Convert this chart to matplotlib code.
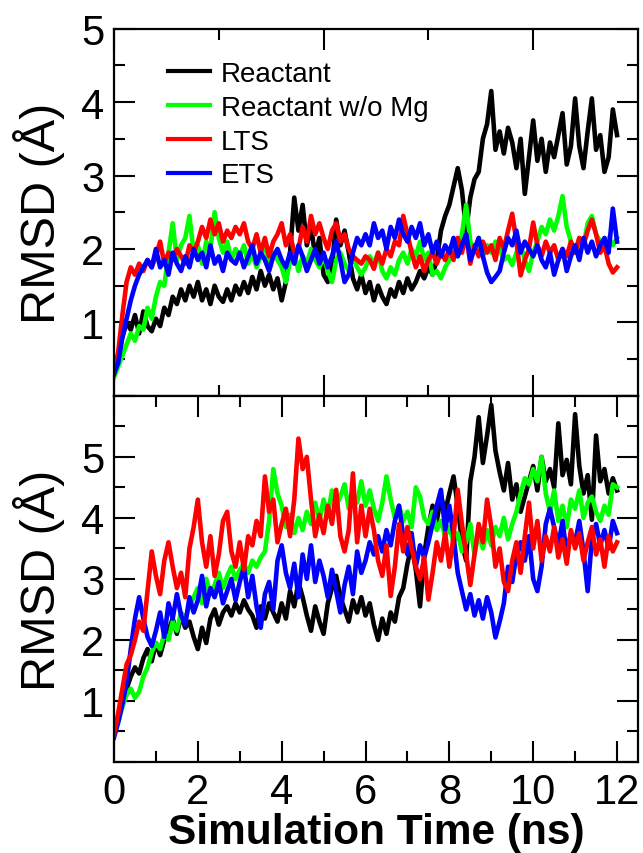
# RMSD vs simulation time, two stacked panels
import matplotlib
matplotlib.use("Agg")
import matplotlib.pyplot as plt
import numpy as np

plt.rcParams['font.family'] = ['Liberation Sans', 'DejaVu Sans']

# time grid (ns), values read every 0.1 ns
time_ns = [i / 10 for i in range(121)]

labels = ["Reactant", "Reactant w/o Mg", "LTS", "ETS"]
colors = ["#000000", "#00ff00", "#ff0000", "#0000ff"]

# ---- top panel ----
top_black = [
    0.30, 0.55, 0.80, 1.00, 0.90, 1.10, 0.85, 1.15, 0.95, 0.88,
    1.05, 0.95, 1.20, 1.10, 1.35, 1.25, 1.45, 1.30, 1.50, 1.35,
    1.55, 1.30, 1.45, 1.25, 1.50, 1.35, 1.28, 1.45, 1.30, 1.50,
    1.38, 1.55, 1.40, 1.62, 1.45, 1.70, 1.50, 1.65, 1.45, 1.60,
    1.30, 1.55, 1.95, 2.70, 2.25, 2.60, 2.05, 2.30, 1.90, 2.15,
    1.65, 1.55, 1.75, 2.40, 2.05, 2.25, 1.95, 1.60, 1.45, 1.65,
    1.40, 1.55, 1.30, 1.50, 1.35, 1.25, 1.45, 1.35, 1.55, 1.40,
    1.60, 1.45, 1.55, 1.70, 1.60, 1.75, 1.65, 1.85, 2.25, 2.45,
    2.60, 2.85, 3.10, 2.80, 2.25, 2.70, 2.95, 3.05, 3.50, 3.70,
    4.15, 3.35, 3.60, 3.30, 3.65, 3.45, 3.10, 3.50, 2.75, 3.25,
    3.75, 3.20, 3.50, 3.05, 3.45, 3.25, 3.55, 3.85, 3.15, 3.40,
    4.05, 3.40, 3.10, 3.60, 4.05, 3.35, 3.55, 3.05, 3.25, 3.90,
    3.55]
top_green = [
    0.25, 0.40, 0.55, 0.70, 0.85, 0.75, 0.95, 0.90, 1.20, 1.05,
    1.35, 1.55, 1.50, 1.95, 2.35, 1.85, 2.05, 2.15, 2.45, 1.95,
    2.05, 1.80, 2.10, 2.00, 2.50, 2.15, 1.95, 2.10, 1.85, 2.00,
    1.90, 2.05, 1.80, 1.95, 1.75, 1.90, 2.05, 1.80, 1.95, 1.85,
    1.75, 1.55, 1.85, 1.95, 1.70, 1.90, 1.80, 2.00, 1.85, 1.75,
    1.90, 1.70, 1.55, 1.85, 1.95, 1.80, 1.70, 1.90, 1.75, 1.65,
    1.75, 1.90, 1.80, 1.95, 1.70, 1.60, 1.75, 1.65, 1.85, 1.95,
    1.80, 2.00, 1.90, 2.10, 1.85, 1.95, 1.65, 1.70, 1.60, 1.75,
    1.85, 2.05, 1.90, 2.20, 2.60, 2.10, 1.95, 2.15, 1.90, 2.05,
    1.95, 2.10, 2.00, 1.85, 1.90, 1.78, 1.95, 2.05, 1.85, 1.70,
    1.95, 2.10, 2.30, 2.20, 2.40, 2.25, 2.45, 2.72, 2.30, 2.10,
    1.95, 2.15, 2.05, 2.35, 2.45, 2.20, 2.10, 2.00, 2.15, 2.05,
    2.15]
top_red = [
    0.30, 0.60, 1.10, 1.55, 1.75, 1.65, 1.80, 1.70, 1.85, 1.75,
    1.90, 2.10, 1.80, 1.95, 1.85, 2.00, 1.90, 1.80, 2.05, 1.95,
    2.10, 2.30, 2.15, 2.40, 2.20, 2.35, 2.10, 2.25, 2.15, 2.30,
    2.20, 2.35, 2.10, 2.00, 2.20, 1.95, 2.15, 1.90, 2.10, 2.20,
    2.35, 2.05, 2.20, 1.95, 2.00, 2.30, 2.10, 2.45, 2.20, 2.35,
    2.15, 2.00, 2.25, 2.35, 2.10, 2.20, 2.00, 1.90, 1.85, 1.80,
    1.90, 1.85, 1.73, 1.95, 1.80, 2.00, 1.90, 2.10, 2.05, 2.45,
    2.20, 1.95, 1.75, 1.90, 1.70, 1.85, 1.95, 1.80, 1.95, 1.85,
    2.00, 1.85, 2.15, 1.95, 2.20, 1.80, 2.05, 1.90, 2.10, 1.95,
    2.05, 1.85, 2.15, 2.00, 2.25, 2.48, 2.10, 1.64, 1.85, 2.00,
    2.36, 2.05, 1.90, 2.10, 1.95, 2.05, 1.85, 2.00, 1.90, 2.10,
    1.95, 2.15, 2.05, 2.25, 2.40, 2.20, 1.95, 2.05, 1.80, 1.68,
    1.75]
top_blue = [
    0.30, 0.45, 0.80, 1.05, 1.30, 1.50, 1.65, 1.75, 1.85, 1.75,
    2.00, 1.75, 1.85, 1.65, 1.95, 1.80, 1.70, 1.90, 1.75, 2.00,
    1.85, 1.95, 1.75, 2.05, 1.80, 1.90, 1.70, 1.95, 1.85, 1.80,
    1.95, 1.75, 1.90, 2.05, 1.80, 1.95, 1.85, 1.70, 1.90, 2.00,
    1.85, 1.75, 1.95, 1.80, 2.05, 1.90, 1.70, 1.85, 2.00, 1.80,
    1.95, 1.75, 1.90, 2.10, 1.85, 1.55, 1.65, 1.95, 2.15, 2.05,
    2.20, 2.05, 2.35, 2.15, 2.25, 2.00, 2.30, 2.15, 2.40, 2.20,
    2.10, 2.30, 2.15, 2.35, 2.05, 2.20, 1.95, 2.10, 1.90, 2.05,
    1.95, 2.15, 1.90, 2.05, 2.20, 1.85, 2.00, 2.15, 1.90, 1.68,
    1.55, 1.62, 1.70, 1.95, 2.15, 2.05, 2.25, 1.95, 2.10, 2.00,
    1.90, 2.05, 1.85, 1.75, 1.95, 1.65, 1.85, 2.00, 1.70, 1.90,
    2.05, 1.85, 2.15, 1.95, 2.10, 1.90, 2.05, 2.15, 1.95, 2.55,
    2.10]

# ---- bottom panel ----
bot_black = [
    0.45, 0.70, 0.95, 1.20, 1.40, 1.55, 1.45, 1.70, 1.85, 1.65,
    1.95, 1.75, 2.00, 2.15, 2.35, 2.10, 2.40, 2.20, 2.30, 2.05,
    1.85, 2.20, 1.95, 2.35, 2.50, 2.25, 2.45, 2.55, 2.40, 2.60,
    2.45, 2.65, 2.50, 2.40, 2.20, 2.55, 2.35, 2.60, 2.45, 2.30,
    2.60, 2.35, 2.80, 2.55, 2.95, 2.70, 2.40, 2.15, 2.55, 2.30,
    2.10, 2.60, 2.85, 3.05, 2.70, 2.50, 2.30, 2.65, 2.45, 2.70,
    2.40, 2.60, 2.25, 2.00, 2.35, 2.10, 2.45, 2.30, 2.70, 2.85,
    3.25, 3.55, 3.15, 2.55, 3.40, 3.85, 4.20, 3.95, 4.35, 4.10,
    4.40, 4.68, 4.20, 3.60, 3.30, 4.60, 5.00, 5.65, 4.90, 5.35,
    5.85, 5.10, 4.75, 4.45, 4.90, 4.30, 4.55, 4.10, 4.35, 4.60,
    4.85, 4.45, 5.00, 4.60, 4.80, 4.50, 5.55, 4.70, 4.95, 4.55,
    5.70, 4.85, 4.40, 4.70, 3.97, 5.35, 4.60, 4.80, 4.40, 4.65,
    4.45]
bot_green = [
    0.45, 0.65, 0.90, 1.10, 1.20, 1.05, 1.15, 1.40, 1.55, 1.80,
    1.95, 1.85, 2.10, 2.00, 2.30, 2.15, 2.45, 2.35, 2.55, 2.70,
    2.85, 2.60, 3.00, 2.75, 2.90, 3.10, 2.85, 3.05, 3.20, 3.00,
    3.15, 3.25, 3.10, 3.30, 3.20, 3.35, 3.45, 3.95, 4.80, 4.40,
    4.20, 3.85, 4.05, 3.75, 4.00, 3.80, 4.10, 3.90, 4.25, 3.95,
    4.30, 4.05, 4.45, 4.20, 4.35, 4.55, 4.15, 4.40, 4.25, 4.60,
    4.20, 4.45, 4.15, 3.95, 4.25, 4.68, 4.30, 4.00, 4.20, 3.95,
    4.10, 3.85, 4.50, 4.35, 4.00, 3.90, 4.10, 3.80, 3.95, 3.70,
    3.85, 3.60, 3.75, 3.45, 3.60, 3.90, 3.40, 3.75, 3.50, 3.80,
    3.55, 3.85, 3.70, 4.00, 3.65, 3.90, 4.10, 4.40, 4.65, 4.55,
    4.80, 4.60, 5.00, 4.40, 4.10, 4.45, 3.95, 4.20, 3.85, 4.30,
    4.15, 4.45, 4.00, 4.25, 4.35, 4.10, 3.95, 4.20, 4.05, 4.55,
    4.50]
bot_red = [
    0.45, 0.80, 1.20, 1.60, 1.75, 2.00, 2.30, 2.15, 2.80, 3.45,
    3.05, 2.75, 3.30, 3.60, 3.20, 2.85, 3.10, 2.70, 3.50, 3.85,
    4.30, 3.60, 3.20, 3.70, 3.05, 3.40, 3.95, 4.10, 3.45, 3.20,
    3.60, 3.15, 3.70, 3.55, 3.95, 3.70, 4.68, 4.10, 4.30, 3.60,
    3.90, 4.15, 3.70, 4.30, 5.30, 4.80, 5.00, 4.30, 3.70, 4.05,
    3.75, 4.20, 3.90, 4.46, 3.70, 3.45, 3.80, 4.73, 3.60, 4.20,
    3.70, 4.15, 3.80, 3.30, 3.05, 3.55, 2.72, 3.20, 3.90, 3.45,
    3.85, 3.50, 3.20, 3.00, 3.35, 2.66, 3.10, 3.60, 3.30, 3.75,
    3.20, 3.70, 4.46, 3.90, 3.40, 2.90, 3.40, 3.90, 3.60, 4.30,
    3.85, 3.20, 3.50, 2.95, 2.80, 3.30, 3.60, 3.10, 3.70, 4.25,
    3.50, 3.95, 3.30, 3.70, 3.45, 3.85, 3.35, 3.65, 3.25, 3.80,
    3.50, 3.75, 3.30, 3.60, 3.85, 3.40, 3.65, 3.20, 3.70, 3.45,
    3.60]
bot_blue = [
    0.40, 0.65, 0.95, 1.30, 1.85, 2.35, 2.70, 2.35, 2.05, 1.90,
    2.15, 2.45, 2.05, 2.60, 2.35, 2.75, 2.40, 2.25, 2.70, 2.45,
    2.65, 3.05, 2.55, 2.85, 2.70, 2.95, 2.60, 2.80, 3.00, 2.65,
    2.95, 3.20, 2.70, 3.05, 2.55, 2.20, 2.75, 2.95, 2.50, 3.30,
    3.55, 3.10, 2.85, 3.25, 2.70, 3.40, 3.00, 3.55, 2.95, 3.30,
    3.05, 2.70, 3.15, 2.80, 2.45, 2.90, 3.20, 2.75, 3.45, 3.10,
    3.30, 3.60, 3.40, 3.70, 3.45, 3.80, 3.55, 3.95, 4.20, 3.70,
    3.40, 3.75, 3.20, 3.55, 3.35, 3.60, 3.90, 4.20, 4.46, 3.80,
    4.20, 3.70, 3.10, 2.80, 2.50, 2.75, 2.40, 2.65, 2.35, 2.70,
    2.45, 2.04, 2.30, 2.60, 3.20, 2.95, 3.40, 3.60, 3.30, 3.70,
    3.00, 2.80, 3.20, 3.90, 4.15, 3.85, 3.55, 3.95, 3.40, 3.75,
    3.60, 3.95, 3.45, 2.80, 3.65, 3.90, 3.55, 3.80, 3.50, 3.95,
    3.75]

top_series = [top_black, top_green, top_red, top_blue]
bot_series = [bot_black, bot_green, bot_red, bot_blue]
top_order = [1, 2, 3, 4]
bot_order = [1, 2, 4, 3]

fig = plt.figure(figsize=(6.43, 8.54), dpi=100)
ax1 = fig.add_axes([0.1773, 0.5353, 0.8149, 0.4300])
ax2 = fig.add_axes([0.1773, 0.1066, 0.8149, 0.4287])

for ys, c, lab, z in zip(top_series, colors, labels, top_order):
    ax1.plot(time_ns, ys, color=c, lw=3.3, label=lab, zorder=z)
for ys, c, z in zip(bot_series, colors, bot_order):
    ax2.plot(time_ns, ys, color=c, lw=3.3, zorder=z)

for ax in (ax1, ax2):
    ax.set_xlim(0, 12.5)
    for s in ax.spines.values():
        s.set_linewidth(1.6)
        s.set_zorder(6)
    ax.tick_params(which='both', direction='in', top=True, right=True,
                   width=1.5, labelsize=30, pad=7)
    ax.tick_params(which='major', length=15)
    ax.tick_params(which='minor', length=8)
    ax.set_ylabel("RMSD (Å)", fontsize=35)
    ax.yaxis.set_label_coords(-0.093, 0.5)

ax1.set_ylim(0, 5)
ax1.set_yticks(range(0, 6))
ax1.set_yticklabels(['', '1', '2', '3', '4', '5'])
ax1.set_yticks(np.arange(0.5, 5, 1.0), minor=True)
ax1.set_xticks([0, 5, 10])
ax1.set_xticks([2.5, 7.5], minor=True)
ax1.tick_params(labelbottom=False)

ax2.set_ylim(0, 6)
ax2.set_yticks(range(0, 7))
ax2.set_yticklabels(['', '1', '2', '3', '4', '5', ''])
ax2.set_yticks(np.arange(0.5, 6, 1.0), minor=True)
ax2.set_xticks(range(0, 13, 2))
ax2.set_xticks(range(1, 13, 2), minor=True)
ax2.set_xlabel("Simulation Time (ns)", fontsize=30.5, fontweight='bold',
               labelpad=0)

leg = ax1.legend(loc='upper left', bbox_to_anchor=(0.103, 0.912),
                 frameon=False, fontsize=20, borderpad=0, borderaxespad=0,
                 handlelength=1.5, handletextpad=0.4, labelspacing=0.28)
for line in leg.get_lines():
    line.set_linewidth(3)

fig.savefig("out.png", dpi=100)
